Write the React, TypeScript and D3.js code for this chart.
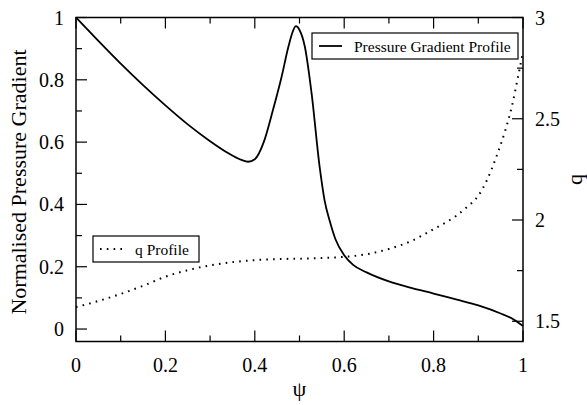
import React from 'react';
import * as d3 from 'd3';

// pressure gradient profile (left axis)
const psiPG = [0, 0.05, 0.1, 0.15, 0.2, 0.25, 0.3, 0.34, 0.37, 0.385, 0.4, 0.42, 0.44, 0.46, 0.475, 0.485, 0.492, 0.5, 0.512, 0.527, 0.545, 0.556, 0.568, 0.58, 0.6, 0.62, 0.65, 0.7, 0.75, 0.8, 0.85, 0.9, 0.95, 0.98, 1.0];
const pgValues = [1.0, 0.925, 0.852, 0.783, 0.718, 0.657, 0.603, 0.565, 0.543, 0.537, 0.545, 0.6, 0.7, 0.81, 0.905, 0.955, 0.972, 0.96, 0.906, 0.757, 0.521, 0.414, 0.345, 0.29, 0.237, 0.206, 0.182, 0.153, 0.132, 0.114, 0.095, 0.076, 0.05, 0.03, 0.01];

// q profile (right axis)
const psiQ = [0, 0.05, 0.1, 0.15, 0.2, 0.25, 0.3, 0.35, 0.4, 0.45, 0.5, 0.55, 0.6, 0.65, 0.7, 0.75, 0.8, 0.85, 0.875, 0.9, 0.92, 0.94, 0.96, 0.975, 0.99, 1.0];
const qValues = [1.57, 1.6, 1.635, 1.675, 1.72, 1.752, 1.776, 1.792, 1.802, 1.807, 1.809, 1.812, 1.818, 1.831, 1.857, 1.896, 1.955, 2.02, 2.065, 2.12, 2.2, 2.31, 2.44, 2.56, 2.72, 2.83];

const xMajor = [0, 0.2, 0.4, 0.6, 0.8, 1];
const xMinor = [0.1, 0.3, 0.5, 0.7, 0.9];
const leftMajor = [0, 0.2, 0.4, 0.6, 0.8, 1];
const leftMinor = [0.1, 0.3, 0.5, 0.7, 0.9];
const rightMajor = [1.5, 2, 2.5, 3];
const rightMinor = [1.75, 2.25, 2.75];

const FONT = '"Liberation Serif"';
const DOTS = '1.6 5.2';

const left = 76, right = 523, top = 17.5, bottom = 341.5;
const major = 11, minor = 6;

const x = d3.scaleLinear().domain([0, 1]).range([left, right]);
const yL = d3.scaleLinear().domain([-0.04, 1]).range([bottom, top]);
const yR = d3.scaleLinear().domain([1.4, 3]).range([bottom, top]);
const fmt = d3.format('~g');

const pgLine = d3.line<number>()
  .x((d, i) => x(psiPG[i]))
  .y((d) => yL(d))
  .curve(d3.curveMonotoneX);

const qLine = d3.line<number>()
  .x((d, i) => x(psiQ[i]))
  .y((d) => yR(d))
  .curve(d3.curveMonotoneX);

function Legend({ bx, by, bw, text, dotted }: { bx: number; by: number; bw: number; text: string; dotted: boolean }) {
  return (
    <g>
      <rect x={bx} y={by} width={bw} height={26} fill="#fff" stroke="#000" strokeWidth={1.2} />
      <line x1={bx + 7} x2={bx + 30} y1={by + 13} y2={by + 13} stroke="#000"
        strokeWidth={dotted ? 2 : 1.8} strokeDasharray={dotted ? DOTS : undefined} />
      <text x={bx + 42} y={by + 18.5} style={{ fontFamily: FONT, fontSize: 15.5 }}>{text}</text>
    </g>
  );
}

export default function App() {
  const tickStyle = { stroke: '#000', strokeWidth: 1.2 };
  const labelStyle = { fontFamily: FONT, fontSize: 20 };
  const titleStyle = { fontFamily: FONT, fontSize: 22 };
  const midY = 182;

  return (
    <svg width={587} height={405} style={{ position: 'absolute', left: 0, top: 0, background: '#fff' }}>
      {/* ticks, all pointing inwards */}
      {xMajor.map((v) => (
        <g key={'xM' + v}>
          <line x1={x(v)} x2={x(v)} y1={bottom} y2={bottom - major} {...tickStyle} />
          <line x1={x(v)} x2={x(v)} y1={top} y2={top + major} {...tickStyle} />
        </g>
      ))}
      {xMinor.map((v) => (
        <g key={'xm' + v}>
          <line x1={x(v)} x2={x(v)} y1={bottom} y2={bottom - minor} {...tickStyle} />
          <line x1={x(v)} x2={x(v)} y1={top} y2={top + minor} {...tickStyle} />
        </g>
      ))}
      {leftMajor.map((v) => <line key={'lM' + v} x1={left} x2={left + major} y1={yL(v)} y2={yL(v)} {...tickStyle} />)}
      {leftMinor.map((v) => <line key={'lm' + v} x1={left} x2={left + minor} y1={yL(v)} y2={yL(v)} {...tickStyle} />)}
      {rightMajor.map((v) => <line key={'rM' + v} x1={right} x2={right - major} y1={yR(v)} y2={yR(v)} {...tickStyle} />)}
      {rightMinor.map((v) => <line key={'rm' + v} x1={right} x2={right - minor} y1={yR(v)} y2={yR(v)} {...tickStyle} />)}

      {/* tick labels */}
      {xMajor.map((v) => <text key={'xt' + v} x={x(v)} y={372} textAnchor="middle" style={labelStyle}>{fmt(v)}</text>)}
      {leftMajor.map((v) => <text key={'lt' + v} x={64} y={yL(v) + 7} textAnchor="end" style={labelStyle}>{fmt(v)}</text>)}
      {rightMajor.map((v) => <text key={'rt' + v} x={535} y={yR(v) + 7} style={labelStyle}>{fmt(v)}</text>)}

      {/* axis titles */}
      <text x={x(0.5)} y={396} textAnchor="middle" style={titleStyle}>ψ</text>
      <text transform={`translate(26,${midY}) rotate(-90)`} textAnchor="middle" style={titleStyle}>Normalised Pressure Gradient</text>
      <text transform={`translate(582,${(top + bottom) / 2}) rotate(-90)`} textAnchor="middle" style={titleStyle}>q</text>

      {/* curves */}
      <path d={pgLine(pgValues) || ''} fill="none" stroke="#000" strokeWidth={1.8} />
      <path d={qLine(qValues) || ''} fill="none" stroke="#000" strokeWidth={2} strokeDasharray={DOTS} />

      {/* frame */}
      <rect x={left} y={top} width={right - left} height={bottom - top} fill="none" stroke="#000" strokeWidth={1.5} />

      <Legend bx={312} by={33} bw={206} text="Pressure Gradient Profile" dotted={false} />
      <Legend bx={93} by={236} bw={106} text="q Profile" dotted={true} />
    </svg>
  );
}
